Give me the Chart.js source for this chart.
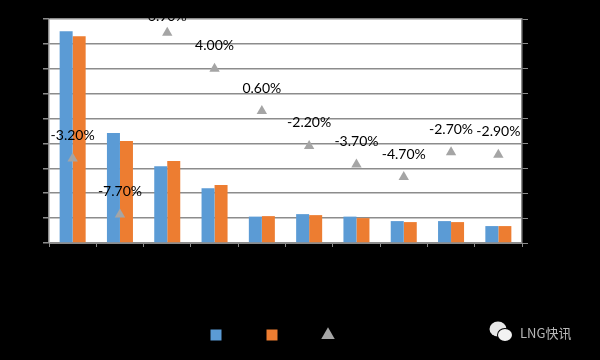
<!DOCTYPE html>
<html>
<head>
<meta charset="utf-8">
<script src="https://cdn.jsdelivr.net/npm/chart.js@4"></script>
<style>
  html, body { margin: 0; padding: 0; background: #000; }
  #wrap { width: 600px; height: 360px; }
</style>
</head>
<body>
<div id="wrap"><canvas id="myChart" width="600" height="360"></canvas></div>
<script>
// category names and legend texts are black on black in the picture, so they stay empty
var categories = ['', '', '', '', '', '', '', '', '', ''];
var seriesBlue = [8.51, 4.42, 3.08, 2.2, 1.06, 1.16, 1.06, 0.88, 0.88, 0.68];
var seriesOrange = [8.31, 4.1, 3.29, 2.33, 1.08, 1.12, 1.0, 0.84, 0.84, 0.68];
var growth = [-3.2, -7.7, 6.9, 4.0, 0.6, -2.2, -3.7, -4.7, -2.7, -2.9];
var watermark = 'LNG快讯';

const plotBackground = {
  id: 'plotBackground',
  beforeDraw(chart) {
    const a = chart.chartArea;
    chart.ctx.fillStyle = '#fff';
    chart.ctx.fillRect(a.left, a.top, a.width, a.height);
  }
};

// percent labels above the triangles, black so they vanish on the black margin
const growthLabels = {
  id: 'growthLabels',
  afterDatasetsDraw(chart) {
    const ctx = chart.ctx;
    const meta = chart.getDatasetMeta(2);
    ctx.save();
    ctx.font = '14px Lato';
    ctx.fillStyle = '#000';
    ctx.textAlign = 'center';
    ctx.textBaseline = 'middle';
    meta.data.forEach((pt, i) => {
      // labels cannot rise further than just over the top of the plot
      ctx.fillText(growth[i].toFixed(2) + '%', pt.x, Math.max(pt.y - 23, chart.chartArea.top - 3));
    });
    ctx.restore();
  }
};

const wechatMark = {
  id: 'wechatMark',
  afterDraw(chart) {
    const ctx = chart.ctx;
    ctx.save();
    ctx.fillStyle = '#e8e8e8';
    ctx.beginPath();
    ctx.ellipse(498, 329, 8.5, 7.5, 0, 0, Math.PI * 2);
    ctx.fill();
    ctx.fillStyle = '#000';
    ctx.beginPath();
    ctx.ellipse(505, 335, 8, 7, 0, 0, Math.PI * 2);
    ctx.fill();
    ctx.fillStyle = '#f2f2f2';
    ctx.beginPath();
    ctx.ellipse(505, 335, 7, 6, 0, 0, Math.PI * 2);
    ctx.fill();
    ctx.font = '13px "Noto Sans CJK SC"';
    ctx.fillStyle = '#b8b8b8';
    ctx.textBaseline = 'middle';
    ctx.fillText(watermark, 520, 333);
    ctx.restore();
  }
};

const axisColor = '#8c8c8c';

new Chart(document.getElementById('myChart').getContext('2d'), {
  type: 'bar',
  data: {
    labels: categories,
    datasets: [
      { label: '', data: seriesBlue, backgroundColor: '#5b9bd5', pointStyle: 'rect', order: 2, yAxisID: 'y' },
      { label: '', data: seriesOrange, backgroundColor: '#ed7d31', pointStyle: 'rect', order: 2, yAxisID: 'y' },
      {
        label: '', type: 'line', data: growth, showLine: false, yAxisID: 'y2', order: 1,
        pointStyle: 'triangle', pointRadius: 6, pointBackgroundColor: '#a5a5a5', pointBorderColor: '#a5a5a5',
        pointBorderWidth: 0, backgroundColor: '#a5a5a5', borderColor: '#a5a5a5'
      }
    ]
  },
  plugins: [plotBackground, growthLabels, wechatMark],
  options: {
    responsive: false,
    animation: false,
    layout: { padding: { top: 19, left: 0, right: 50, bottom: 9 } },
    datasets: { bar: { categoryPercentage: 0.55, barPercentage: 1 } },
    plugins: {
      tooltip: { enabled: false },
      legend: {
        position: 'bottom',
        labels: {
          usePointStyle: true, boxWidth: 11, boxHeight: 11, padding: 39, font: { size: 12 }, color: '#000',
          sort: (a, b) => a.datasetIndex - b.datasetIndex
        }
      }
    },
    scales: {
      x: {
        ticks: { display: false },
        grid: { display: true, drawOnChartArea: false, color: axisColor, tickLength: 4 },
        border: { color: axisColor },
        afterFit(s) { s.height = 47; }
      },
      y: {
        min: 0, max: 9,
        ticks: { display: false, stepSize: 1 },
        grid: { color: axisColor, lineWidth: 1.5, tickLength: 6 },
        border: { color: axisColor, width: 1.5 },
        afterFit(s) { s.width = 49; }
      },
      y2: {
        position: 'right',
        min: -10, max: 8,
        ticks: { display: false, stepSize: 2 },
        grid: { drawOnChartArea: false, color: axisColor, tickLength: 6 },
        border: { color: axisColor, width: 1.5 },
        afterFit(s) { s.width = 28; }
      }
    }
  }
});
</script>
</body>
</html>
